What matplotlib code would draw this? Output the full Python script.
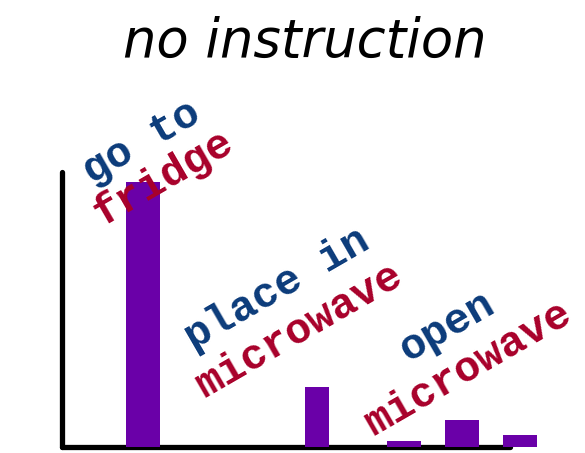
import numpy as np
import matplotlib.pyplot as plt

W, H = 585, 453

# bar data (heights as a fraction of the y axis)
bar_x = [1.0, 4.0, 5.5, 6.5, 7.5]
bar_h = [0.965, 0.22, 0.022, 0.10, 0.045]
bar_w = [0.59, 0.41, 0.59, 0.59, 0.59]

# labels: (text, colour, baseline start in pixels)
labels = ["go to", "fridge", "place in", "microwave", "open", "microwave"]
label_colors = ["#0b3b7a", "#a8002a", "#0b3b7a", "#a8002a", "#0b3b7a", "#a8002a"]
label_pos = [(92, 184), (102, 226), (194, 350), (204, 398), (408, 362), (374, 436)]

title = "no instruction"


def px(x, y):
    return x / W, 1 - y / H


def main():
    fig = plt.figure(figsize=(W / 100, H / 100), dpi=100)
    ax = fig.add_axes([62 / W, 6 / H, 448 / W, 275 / H])
    ax.set_xlim(-0.4, 7.33)
    ax.set_ylim(0, 1)

    ax.bar(bar_x, bar_h, width=bar_w, color="#6a00a8", clip_on=False, zorder=3)

    for s in ["top", "right"]:
        ax.spines[s].set_visible(False)
    for s in ["left", "bottom"]:
        ax.spines[s].set_linewidth(3.8)
        ax.spines[s].set_capstyle("round")
    ax.set_xticks([])
    ax.set_yticks([])

    for txt, c, (x, y) in zip(labels, label_colors, label_pos):
        fx, fy = px(x, y)
        fig.text(fx, fy, txt, color=c, fontsize=31, fontweight="bold",
                 family="Liberation Mono", rotation=30, rotation_mode="anchor",
                 ha="left", va="baseline", zorder=1)

    fx, fy = px(305, 57)
    fig.text(fx, fy, title, fontsize=38, style="italic", family="DejaVu Sans",
             ha="center", va="baseline")

    fig.savefig("out.png", dpi=100)


if __name__ == "__main__":
    main()
